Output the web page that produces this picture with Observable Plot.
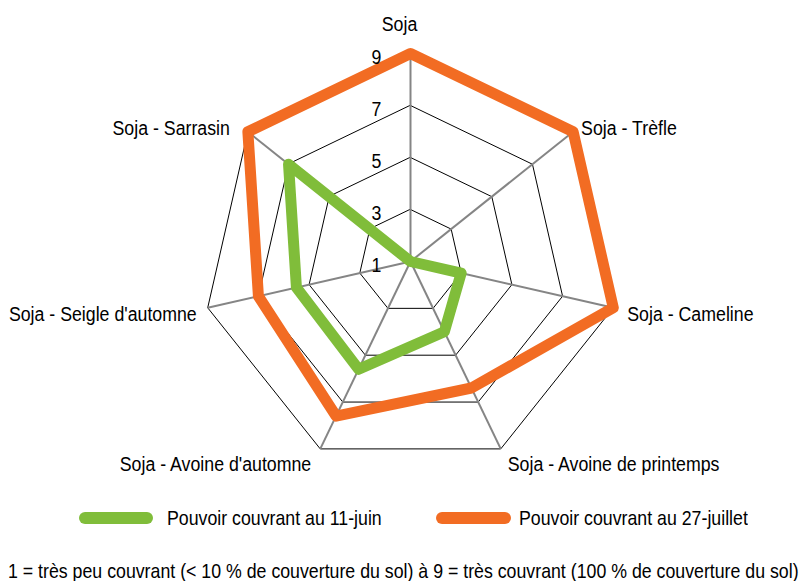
<!DOCTYPE html>
<html><head><meta charset="utf-8">
<script src="https://cdn.jsdelivr.net/npm/d3@7"></script>
<script src="https://cdn.jsdelivr.net/npm/@observablehq/plot@0.6"></script>
<style>
body{margin:0;background:#fff;font-family:"Liberation Sans",Arial,sans-serif;color:#000;}
#chart svg{display:block;}
.legend{position:relative;height:54px;font-size:21px;}
.item{position:absolute;top:16px;height:24px;display:flex;align-items:center;white-space:nowrap;}
.sw{display:inline-block;height:12px;border-radius:6px;flex:none;}
.narrow{display:inline-block;transform:scaleX(0.845);transform-origin:0 50%;}
.note{height:37px;font-size:21px;line-height:26px;padding-top:14px;box-sizing:border-box;white-space:nowrap;position:relative;}
.note .narrow{position:absolute;left:8px;}
</style></head><body>
<div id="chart"></div>
<div class="legend" id="legend"></div>
<div class="note" id="note"></div>
<script>
// ---- data ----
const axes = ["Soja", "Soja - Trèfle", "Soja - Cameline", "Soja - Avoine de printemps", "Soja - Avoine d'automne", "Soja - Seigle d'automne", "Soja - Sarrasin"];
const juin = [1, 1, 3, 4, 5.6, 5.5, 7];
const juillet = [9, 9, 9, 6.4, 7.6, 7, 9];
const tickValues = [1, 3, 5, 7, 9];
const seriesNames = ["Pouvoir couvrant au 11-juin", "Pouvoir couvrant au 27-juillet"];
const noteText = "1 = très peu couvrant (< 10 % de couverture du sol) à 9 = très couvrant (100 % de couverture du sol)";

// ---- styles / layout ----
const seriesColors = ["#80bd3a", "#f26c23"];
const labelOffsets = [[-11, -29], [8, -4], [14, 6], [7, 15], [-9, 15], [-11, 6], [-18, -4]];
const legendLayout = [[79, 74, 14], [436, 75, 8]]; // left, swatch width, gap
const squeeze = 0.845;

const vMin = 1, vMax = 9, n = axes.length;
const ang = i => 2 * Math.PI * i / n;
const px = (i, v) => (v - vMin) * Math.sin(ang(i));
const py = (i, v) => (v - vMin) * Math.cos(ang(i));

const rings = tickValues.filter(t => t > vMin).flatMap(t => axes.map((a, i) => ({t, x: px(i, t), y: py(i, t)})));
const spokes = axes.map((a, i) => ({x1: 0, y1: 0, x2: px(i, vMax), y2: py(i, vMax)}));
const series = [juin, juillet].flatMap((vals, s) => vals.map((v, i) => ({s: seriesNames[s], x: px(i, v), y: py(i, v)})));
const labels = axes.map((a, i) => {
  const sn = Math.sin(ang(i));
  return {a, x: px(i, vMax), y: py(i, vMax), dx: labelOffsets[i][0], dy: labelOffsets[i][1],
    anchor: sn > 0.1 ? "start" : sn < -0.1 ? "end" : "middle"};
});
const tickLabels = tickValues.map(t => ({t, x: 0, y: py(0, t)}));

const W = 801, H = 490, cx = 410, cy = 261, unit = 26;
const font = '"Liberation Sans",Arial,sans-serif';

const textMarks = labels.map(l => Plot.text([l], {x: "x", y: "y", text: "a", dx: l.dx, dy: l.dy, textAnchor: l.anchor, fontSize: 21, fill: "#000"}));

const chart = Plot.plot({
  width: W, height: H,
  marginTop: 0, marginBottom: 0, marginLeft: 0, marginRight: 0,
  style: {fontFamily: font, background: "#fff"},
  x: {type: "linear", domain: [-cx / unit, (W - cx) / unit], range: [0, W], axis: null},
  y: {type: "linear", domain: [-(H - cy) / unit, cy / unit], range: [H, 0], axis: null},
  color: {domain: seriesNames, range: seriesColors},
  marks: [
    Plot.line(rings, {x: "x", y: "y", z: "t", curve: "linear-closed", stroke: "#000", strokeWidth: 1}),
    Plot.link(spokes, {x1: "x1", y1: "y1", x2: "x2", y2: "y2", stroke: "#858585", strokeWidth: 2}),
    Plot.line(series, {x: "x", y: "y", z: "s", stroke: "s", curve: "linear-closed", strokeWidth: 11, strokeLinejoin: "round"}),
    Plot.text(tickLabels, {x: "x", y: "y", text: d => String(d.t), dx: -34, dy: 4, textAnchor: "middle", fontSize: 21, fill: "#000"}),
    ...textMarks
  ]
});
// condense the text horizontally (narrow typeface look)
chart.querySelectorAll("text").forEach(t => {
  const tr = t.getAttribute("transform");
  if (tr) {
    t.setAttribute("transform", tr + ` scale(${squeeze},1)`);
  } else {
    const x = +(t.getAttribute("x") || 0), y = +(t.getAttribute("y") || 0);
    t.removeAttribute("x"); t.removeAttribute("y");
    t.setAttribute("transform", `translate(${x},${y}) scale(${squeeze},1)`);
  }
});
document.getElementById("chart").appendChild(chart);

const leg = document.getElementById("legend");
seriesNames.forEach((name, k) => {
  const it = document.createElement("div");
  it.className = "item";
  it.style.left = legendLayout[k][0] + "px";
  const sw = document.createElement("span");
  sw.className = "sw";
  sw.style.width = legendLayout[k][1] + "px";
  sw.style.marginRight = legendLayout[k][2] + "px";
  sw.style.background = seriesColors[k];
  it.appendChild(sw);
  const tx = document.createElement("span");
  tx.className = "narrow";
  tx.textContent = name;
  it.appendChild(tx);
  leg.appendChild(it);
});
const nt = document.createElement("span");
nt.className = "narrow";
nt.textContent = noteText;
document.getElementById("note").appendChild(nt);
</script>
</body></html>
